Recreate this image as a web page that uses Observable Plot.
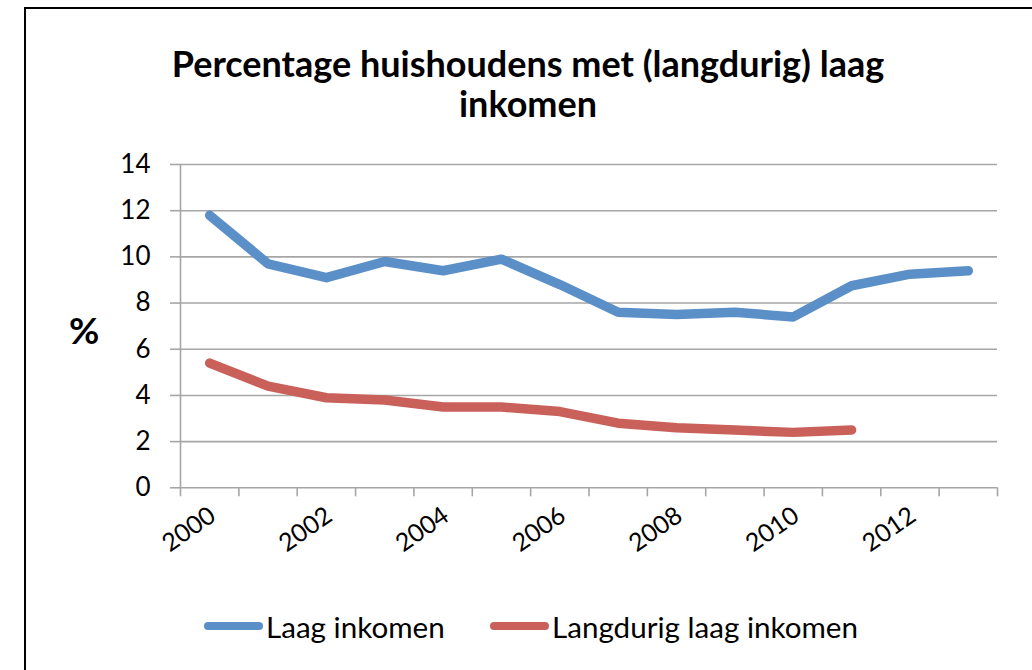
<!DOCTYPE html>
<html>
<head>
<meta charset="utf-8">
<script src="https://cdn.jsdelivr.net/npm/d3@7"></script>
<script src="https://cdn.jsdelivr.net/npm/@observablehq/plot@0.6"></script>
<style>
  html, body { margin: 0; padding: 0; background: #fff; width: 1032px; height: 670px; overflow: hidden; }
  body { position: relative; font-family: Lato, "Noto Sans", "DejaVu Sans", sans-serif; }
  #frame { position: absolute; left: 24px; top: 7px; width: 1100px; height: 700px; border: 2px solid #000; box-sizing: border-box; }
  #title { position: absolute; left: 25px; width: 1006px; top: 43px; text-align: center; font-weight: 700; font-size: 36px; line-height: 40px; color: #000; }
  #pct { position: absolute; left: 69px; top: 307px; font-weight: 700; font-size: 37px; color: #000; }
  #chart { position: absolute; left: 0; top: 140px; }
  #legend { position: absolute; top: 606px; left: 0; width: 1032px; height: 40px; }
  .item { position: absolute; top: 0; display: flex; align-items: center; font-size: 29.6px; color: #000; height: 40px; }
  .sw { display: inline-block; width: 59px; height: 8px; border-radius: 4px; margin-right: 3px; }
</style>
</head>
<body>
<div id="frame"></div>
<div id="title">Percentage huishoudens met (langdurig) laag<br>inkomen</div>
<div id="pct">%</div>
<div id="chart"></div>
<div id="legend"></div>
<script>
// ---- data ----
const years = [2000, 2001, 2002, 2003, 2004, 2005, 2006, 2007, 2008, 2009, 2010, 2011, 2012, 2013];
const laagInkomen = [11.8, 9.7, 9.1, 9.8, 9.4, 9.9, 8.8, 7.6, 7.5, 7.6, 7.4, 8.75, 9.25, 9.4];
const langdurigYears = [2000, 2001, 2002, 2003, 2004, 2005, 2006, 2007, 2008, 2009, 2010, 2011];
const langdurigLaag = [5.4, 4.4, 3.9, 3.8, 3.5, 3.5, 3.3, 2.8, 2.6, 2.5, 2.4, 2.5];
const yTicks = [0, 2, 4, 6, 8, 10, 12, 14];
const xLabels = [2000, 2002, 2004, 2006, 2008, 2010, 2012];
const seriesNames = ["Laag inkomen", "Langdurig laag inkomen"];
const seriesColors = ["#5b8fc8", "#c9605a"];

// table built from arrays
const blueData = years.map((y, i) => ({year: y, value: laagInkomen[i]}));
const redData = langdurigYears.map((y, i) => ({year: y, value: langdurigLaag[i]}));
// category boundaries (Excel-style ticks between categories)
const bounds = years.map(y => y - 0.5).concat([years[years.length - 1] + 0.5]);

const gridColor = "#a6a6a6";

const chart = Plot.plot({
  width: 1032,
  height: 420,
  marginLeft: 180,
  marginRight: 35,
  marginTop: 24,
  marginBottom: 72.7,
  x: {type: "linear", domain: [bounds[0], bounds[bounds.length - 1]]},
  y: {domain: [yTicks[0], yTicks[yTicks.length - 1]]},
  style: {fontFamily: "Lato, 'Noto Sans', sans-serif", background: "transparent", overflow: "visible", color: "#000"},
  marks: [
    Plot.ruleY(yTicks, {stroke: gridColor, strokeWidth: 1.6}),
    Plot.ruleX([bounds[0]], {stroke: gridColor, strokeWidth: 1.6}),
    Plot.axisY({ticks: yTicks, tickSize: 10, tickPadding: 20, fontSize: 26, stroke: gridColor, strokeWidth: 1.6, fill: "#000", label: null, tickFormat: d => String(d)}),
    Plot.axisX({ticks: bounds, tickSize: 9, tickFormat: () => "", stroke: gridColor, strokeWidth: 1.6, label: null}),
    Plot.axisX({ticks: xLabels, tickSize: 0, tickPadding: 25, tickRotate: -35, fontSize: 25, fill: "#000", label: null, tickFormat: d => String(d), dx: 3}),
    Plot.line(blueData, {x: "year", y: "value", stroke: seriesColors[0], strokeWidth: 9.5, strokeLinecap: "round", strokeLinejoin: "round"}),
    Plot.line(redData, {x: "year", y: "value", stroke: seriesColors[1], strokeWidth: 9.5, strokeLinecap: "round", strokeLinejoin: "round"})
  ]
});
document.getElementById("chart").appendChild(chart);

// legend
const legend = document.getElementById("legend");
const legendLeft = [204, 490];
seriesNames.forEach((name, i) => {
  const item = document.createElement("div");
  item.className = "item";
  item.style.left = legendLeft[i] + "px";
  const sw = document.createElement("span");
  sw.className = "sw";
  sw.style.background = seriesColors[i];
  const tx = document.createElement("span");
  tx.textContent = name;
  item.appendChild(sw);
  item.appendChild(tx);
  legend.appendChild(item);
});
</script>
</body>
</html>
